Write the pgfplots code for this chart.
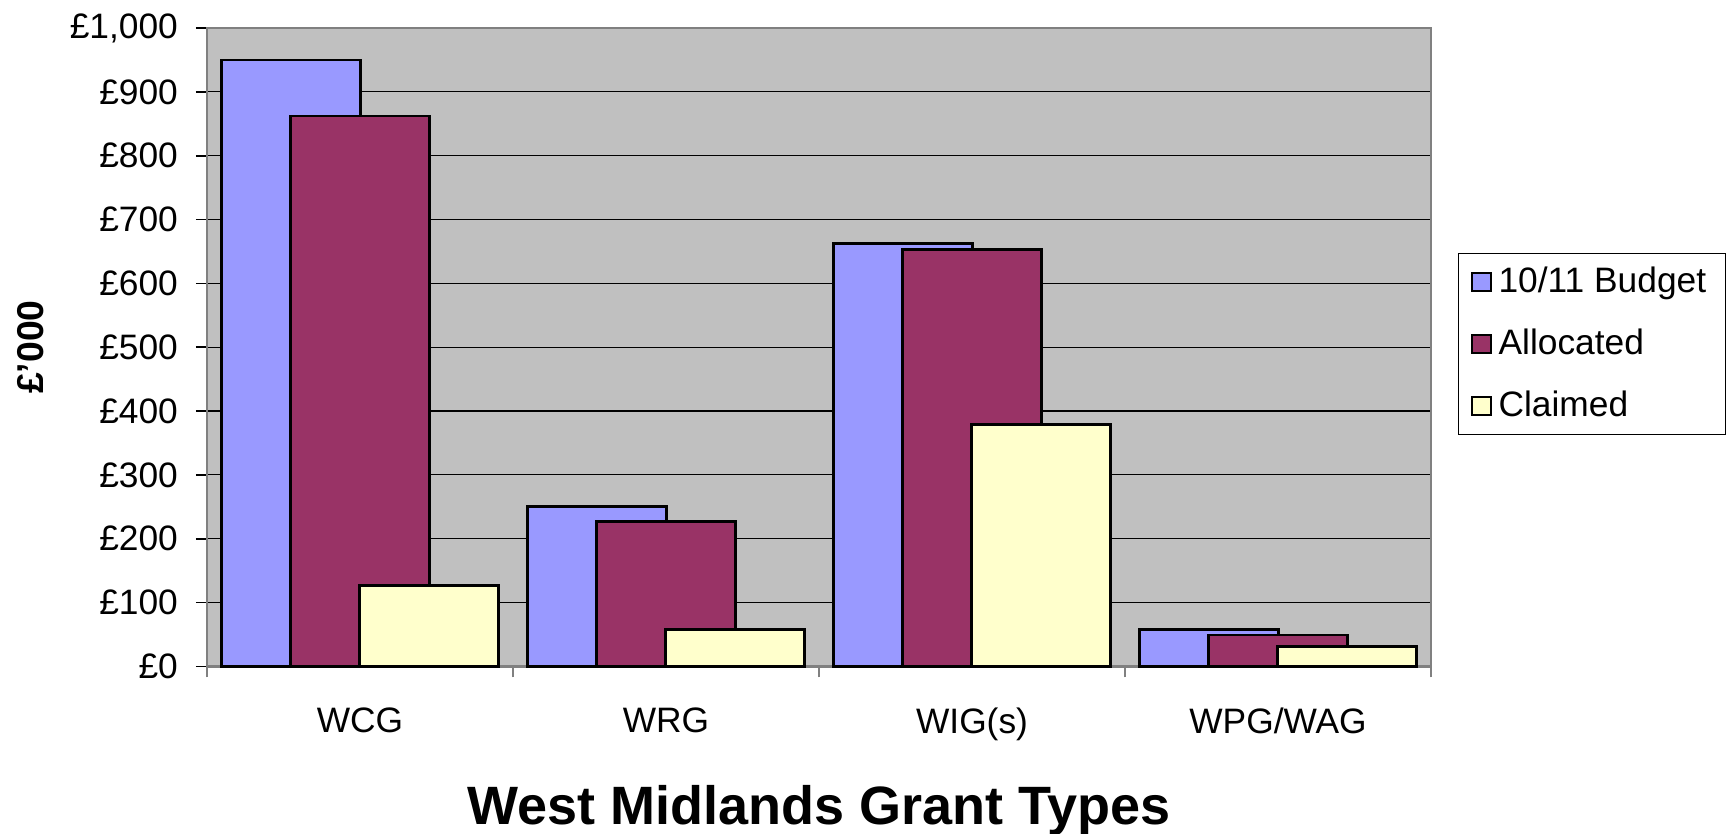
\documentclass[border=0pt]{standalone}
\usepackage{pgfplots}
\pgfplotsset{compat=1.18}
\usepackage{fontspec}
\setmainfont{Liberation Sans}
\definecolor{cBudget}{HTML}{9999FF}
\definecolor{cAlloc}{HTML}{993366}
\definecolor{cClaim}{HTML}{FFFFCC}
\definecolor{cBack}{HTML}{C0C0C0}
\definecolor{cFrame}{HTML}{808080}
\pgfplotsset{mylegend/.style={legend image code/.code={\draw[##1,line width=0.6pt] (0pt,-2.8pt) rectangle (5.6pt,2.8pt);}}}
\begin{document}
\begin{tikzpicture}
\path[use as bounding box] (0,0) rectangle (520.5pt,250pt);
\begin{axis}[
  at={(62.1pt,50.1pt)}, anchor=south west,
  scale only axis, width=367.2pt, height=191.5pt,
  ybar, bar width=0.454,
  xmin=-0.5, xmax=3.5, ymin=0, ymax=1000,
  axis background/.style={fill=cBack},
  axis line style={draw=cFrame, line width=0.8pt},
  xtick={0,1,2,3},
  xticklabels={WCG,WRG,WIG(s),WPG/WAG},
  minor xtick={-0.5,0.5,1.5,2.5,3.5},
  xtick pos=bottom, ytick pos=left,
  major x tick style={draw=none},
  minor x tick style={draw=cFrame, line width=0.5pt},
  ytick={0,100,...,1000},
  yticklabels={£0,£100,£200,£300,£400,£500,£600,£700,£800,£900,{£1,000}},
  y tick style={draw=black, line width=0.5pt},
  tick align=outside,
  major tick length=3.3pt, minor tick length=3.3pt,
  ymajorgrids, grid style={draw=black, line width=0.35pt},
  tick label style={font=\fontsize{10.6}{12}\selectfont},
  xticklabel style={yshift=-5.5pt},
  yticklabel style={xshift=-1.9pt},
  ylabel={£'000},
  ylabel style={font=\fontsize{11.2}{13}\selectfont\bfseries, at={(axis description cs:-0.1438,0.5)}, anchor=center},
  xlabel={West Midlands Grant Types},
  xlabel style={font=\fontsize{16.2}{18}\selectfont\bfseries, at={(axis description cs:0.5,0)}, anchor=base, yshift=-47.4pt},
  legend style={at={(1.022,0.648)}, anchor=north west, draw=black, line width=0.4pt, fill=white,
    font=\fontsize{10.6}{12}\selectfont, row sep=5.4pt, inner xsep=3.8pt, inner ysep=2pt,
    legend cell align=left},
  legend cell align=left,
  clip=false,
]
\addplot[fill=cBudget, draw=black, line width=0.8pt, bar shift=-0.226, mylegend] coordinates {(0,950) (1,250) (2,662) (3,58)};
\addplot[fill=cAlloc, draw=black, line width=0.8pt, bar shift=0, mylegend] coordinates {(0,862) (1,227) (2,653) (3,49)};
\addplot[fill=cClaim, draw=black, line width=0.8pt, bar shift=0.226, mylegend] coordinates {(0,127) (1,58) (2,379) (3,31)};
\legend{10/11 Budget, Allocated, Claimed}
\end{axis}
\end{tikzpicture}
\end{document}
